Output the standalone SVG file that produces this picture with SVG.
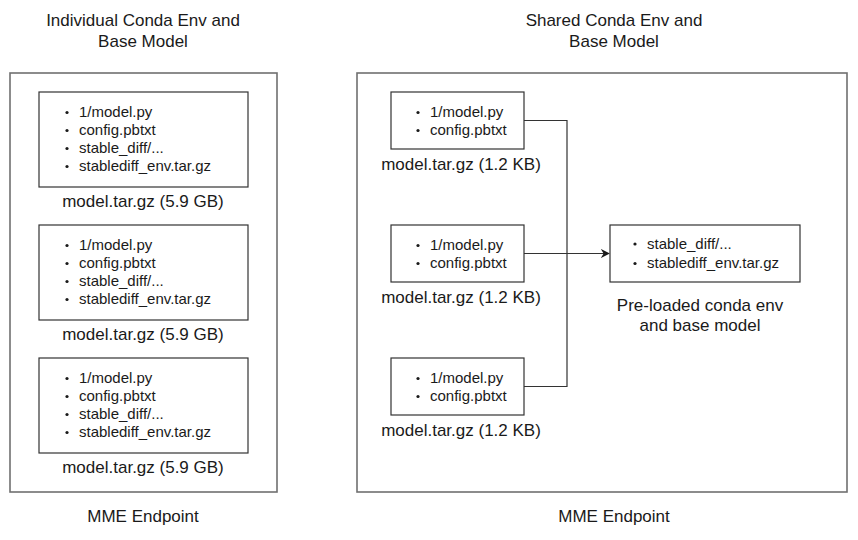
<svg xmlns="http://www.w3.org/2000/svg" width="858" height="540" viewBox="0 0 858 540">
<defs>
<style>
text{font-family:"Liberation Sans",Arial,Helvetica,sans-serif;fill:#1a1a1a}
.t{font-size:17px;text-anchor:middle}
.b{font-size:15px}
.outer{fill:#fff;stroke:#707070;stroke-width:1.6}
.inner{fill:#fff;stroke:#333;stroke-width:1.2}
.dot{fill:#1a1a1a}
.conn{fill:none;stroke:#333;stroke-width:1.2}
</style>
<marker id="arr" viewBox="0 0 10 10" refX="9" refY="5" markerWidth="9" markerHeight="9" markerUnits="userSpaceOnUse" orient="auto">
<path d="M0,0 L10,5 L0,10 L3,5 Z" fill="#1a1a1a"/>
</marker>
</defs>
<rect width="858" height="540" fill="#fff"/>

<g id="left-endpoint">
<text class="t" x="143" y="26">Individual Conda Env and</text>
<text class="t" x="143" y="47">Base Model</text>
<rect class="outer" x="10" y="73" width="267" height="419"/>
<text class="t" x="143" y="522">MME Endpoint</text>
</g>

<g id="left-model-1">
<rect class="inner" x="39" y="92" width="209" height="95"/>
<circle class="dot" cx="67" cy="112.5" r="1.6"/><text class="b" x="79" y="117">1/model.py</text>
<circle class="dot" cx="67" cy="130.5" r="1.6"/><text class="b" x="79" y="135">config.pbtxt</text>
<circle class="dot" cx="67" cy="148.5" r="1.6"/><text class="b" x="79" y="153">stable_diff/...</text>
<circle class="dot" cx="67" cy="166.5" r="1.6"/><text class="b" x="79" y="171">stablediff_env.tar.gz</text>
<text class="t" x="143" y="207">model.tar.gz (5.9 GB)</text>
</g>

<g id="left-model-2">
<rect class="inner" x="39" y="225" width="209" height="95"/>
<circle class="dot" cx="67" cy="245.5" r="1.6"/><text class="b" x="79" y="250">1/model.py</text>
<circle class="dot" cx="67" cy="263.5" r="1.6"/><text class="b" x="79" y="268">config.pbtxt</text>
<circle class="dot" cx="67" cy="281.5" r="1.6"/><text class="b" x="79" y="286">stable_diff/...</text>
<circle class="dot" cx="67" cy="299.5" r="1.6"/><text class="b" x="79" y="304">stablediff_env.tar.gz</text>
<text class="t" x="143" y="340">model.tar.gz (5.9 GB)</text>
</g>

<g id="left-model-3">
<rect class="inner" x="39" y="358" width="209" height="95"/>
<circle class="dot" cx="67" cy="378.5" r="1.6"/><text class="b" x="79" y="383">1/model.py</text>
<circle class="dot" cx="67" cy="396.5" r="1.6"/><text class="b" x="79" y="401">config.pbtxt</text>
<circle class="dot" cx="67" cy="414.5" r="1.6"/><text class="b" x="79" y="419">stable_diff/...</text>
<circle class="dot" cx="67" cy="432.5" r="1.6"/><text class="b" x="79" y="437">stablediff_env.tar.gz</text>
<text class="t" x="143" y="473">model.tar.gz (5.9 GB)</text>
</g>

<g id="right-endpoint">
<text class="t" x="614" y="26">Shared Conda Env and</text>
<text class="t" x="614" y="47">Base Model</text>
<rect class="outer" x="357" y="73" width="490" height="419"/>
<text class="t" x="614" y="522">MME Endpoint</text>
</g>

<g id="connectors">
<polyline class="conn" points="524,120.5 567,120.5 567,386.5 524,386.5"/>
<line class="conn" x1="524" y1="253.5" x2="609" y2="253.5" marker-end="url(#arr)"/>
</g>

<g id="right-model-1">
<rect class="inner" x="391" y="92" width="133" height="57"/>
<circle class="dot" cx="418" cy="112.5" r="1.6"/><text class="b" x="430" y="117">1/model.py</text>
<circle class="dot" cx="418" cy="130.5" r="1.6"/><text class="b" x="430" y="135">config.pbtxt</text>
<text class="t" x="461" y="170">model.tar.gz (1.2 KB)</text>
</g>

<g id="right-model-2">
<rect class="inner" x="391" y="225" width="133" height="57"/>
<circle class="dot" cx="418" cy="245.5" r="1.6"/><text class="b" x="430" y="250">1/model.py</text>
<circle class="dot" cx="418" cy="263.5" r="1.6"/><text class="b" x="430" y="268">config.pbtxt</text>
<text class="t" x="461" y="303">model.tar.gz (1.2 KB)</text>
</g>

<g id="right-model-3">
<rect class="inner" x="391" y="358" width="133" height="57"/>
<circle class="dot" cx="418" cy="378.5" r="1.6"/><text class="b" x="430" y="383">1/model.py</text>
<circle class="dot" cx="418" cy="396.5" r="1.6"/><text class="b" x="430" y="401">config.pbtxt</text>
<text class="t" x="461" y="436">model.tar.gz (1.2 KB)</text>
</g>

<g id="preloaded">
<rect class="inner" x="610" y="225" width="190" height="57"/>
<circle class="dot" cx="635" cy="244" r="1.6"/><text class="b" x="647" y="248.5">stable_diff/...</text>
<circle class="dot" cx="635" cy="263.5" r="1.6"/><text class="b" x="647" y="268">stablediff_env.tar.gz</text>
<text class="t" x="700" y="311">Pre-loaded conda env</text>
<text class="t" x="700" y="331">and base model</text>
</g>
</svg>
